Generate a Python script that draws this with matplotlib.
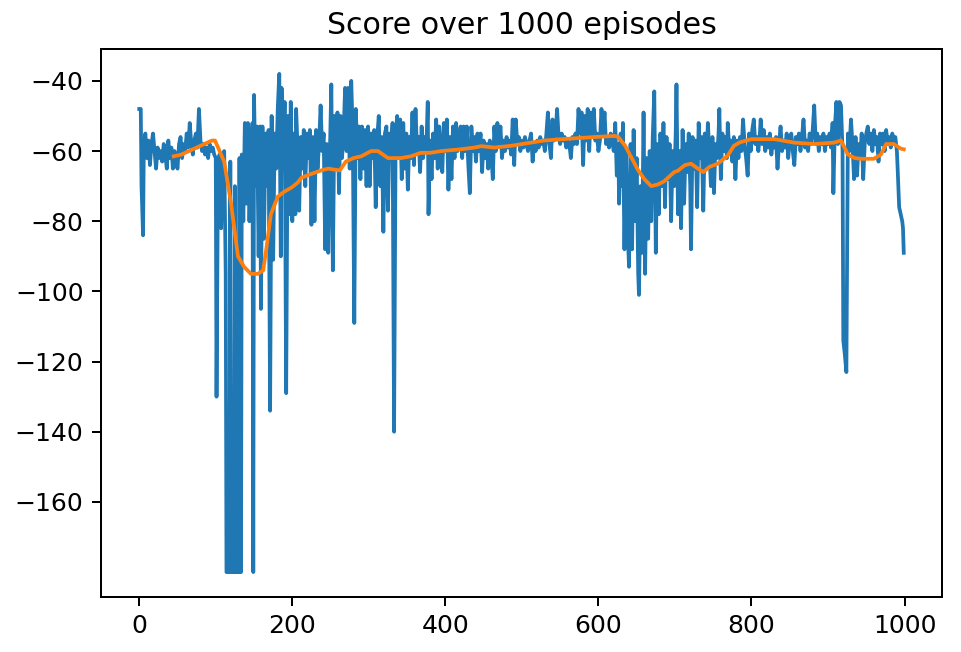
import matplotlib
matplotlib.use('Agg')
import matplotlib.pyplot as plt
import numpy as np

# raw score per episode (episode, score)
start = [(0, -48), (2, -48), (3, -70), (5, -84), (6, -58), (8, -55), (10, -62), (12, -57), (14, -64),
         (16, -58), (18, -55), (20, -60), (22, -65), (24, -59), (26, -62), (28, -60), (30, -63),
         (32, -58), (34, -61), (36, -65), (38, -57), (40, -62), (42, -59), (44, -65), (46, -60),
         (48, -63), (50, -65), (52, -58), (54, -56), (56, -62), (58, -58), (60, -60), (62, -55),
         (64, -59), (66, -52), (68, -58), (70, -61), (72, -57), (74, -55), (76, -59), (78, -48),
         (80, -57), (82, -60), (84, -58), (86, -61), (88, -59), (90, -62), (92, -58), (94, -60),
         (96, -59), (98, -61)]

collapse = [(100, -62), (101, -130), (103, -63), (105, -61), (107, -82), (109, -62), (111, -60),
            (113, -95), (114, -180), (115, -180), (116, -150), (117, -180), (118, -180), (119, -63),
            (120, -180), (121, -180), (122, -130), (123, -180), (124, -180), (125, -70), (126, -180),
            (127, -180), (128, -90), (129, -180), (130, -180), (131, -62), (132, -180), (133, -180),
            (134, -61), (136, -80), (138, -52), (140, -75), (142, -52), (144, -80), (146, -62),
            (148, -52), (149, -180), (150, -44), (152, -70), (154, -53), (156, -90), (158, -53),
            (159, -105), (161, -53), (163, -85), (165, -55), (167, -70), (169, -54), (171, -134),
            (173, -50), (175, -91), (177, -55), (179, -65), (181, -48), (183, -38), (185, -90),
            (186, -42), (188, -65), (190, -46), (192, -129), (194, -50), (196, -78), (198, -46),
            (200, -80)]

recovery = [(202, -55), (204, -78), (205, -48), (207, -60), (209, -77), (211, -56), (213, -65),
            (215, -54), (217, -70), (219, -55), (221, -62), (223, -54), (225, -81), (227, -56),
            (229, -80), (231, -54), (233, -65), (235, -58), (237, -47), (239, -60), (241, -55),
            (243, -88), (245, -58), (247, -89), (249, -62), (251, -41), (253, -94), (255, -50),
            (257, -65), (259, -49), (261, -72), (263, -50), (265, -62), (267, -55), (269, -42),
            (271, -60), (273, -42), (275, -65), (277, -40), (279, -55), (281, -109), (283, -48),
            (285, -62), (287, -53), (289, -68), (291, -53), (293, -65), (295, -54), (297, -70),
            (299, -53)]

middle = [(301, -70), (303, -55), (305, -62), (307, -54), (309, -76), (311, -56), (313, -50),
          (315, -70), (317, -56), (319, -83), (321, -55), (323, -53), (325, -77), (327, -55),
          (329, -60), (331, -52), (333, -140), (335, -56), (337, -50), (339, -62), (341, -51),
          (343, -68), (345, -52), (347, -65), (349, -55), (351, -71), (353, -56), (355, -62),
          (357, -49), (359, -64), (361, -48), (363, -60), (365, -56), (367, -66), (369, -53),
          (371, -62), (373, -56), (375, -60), (377, -46), (378, -78), (380, -57), (382, -68),
          (384, -55), (386, -62), (388, -51), (390, -65), (392, -53), (394, -60), (396, -66),
          (398, -52), (400, -60), (402, -51), (404, -71), (406, -56), (408, -68), (410, -53),
          (412, -62), (414, -52), (416, -60), (418, -56)]

plateau = [(420, -53), (422, -62), (424, -53), (426, -60), (428, -53), (430, -64), (432, -72),
           (434, -53), (436, -60), (438, -56), (440, -63), (442, -55), (444, -60), (446, -55),
           (448, -66), (450, -57), (452, -62), (454, -58), (456, -65), (458, -57), (460, -61),
           (462, -68), (464, -53), (466, -60), (468, -52), (470, -58), (472, -53), (474, -62),
           (476, -57), (478, -60), (480, -56), (482, -59), (484, -57), (486, -61), (488, -51),
           (490, -64), (492, -51), (494, -58), (496, -56), (498, -60), (500, -57), (502, -59),
           (504, -56), (506, -58), (508, -60), (510, -57), (512, -55), (514, -63), (516, -58),
           (518, -60), (520, -57), (522, -59), (524, -56), (526, -58), (528, -57), (530, -60),
           (532, -55), (534, -49), (536, -58), (538, -62), (540, -51), (542, -57), (544, -55),
           (546, -48), (548, -56), (550, -58), (552, -55), (554, -57), (556, -56), (558, -59),
           (560, -57), (562, -58), (564, -62), (566, -56), (568, -58), (570, -55), (572, -58),
           (574, -48), (576, -55), (578, -49), (580, -64), (582, -50), (584, -57), (586, -48),
           (588, -60), (590, -49), (592, -56), (594, -48), (596, -57), (598, -55), (600, -60),
           (602, -57), (604, -48), (606, -55), (608, -49), (610, -58), (612, -56), (614, -59),
           (616, -55), (618, -57)]

dip = [(620, -60), (622, -52), (624, -67), (626, -58), (627, -75), (629, -55), (631, -70),
       (632, -52), (634, -88), (636, -60), (638, -82), (640, -93), (642, -58), (644, -88),
       (646, -54), (648, -80), (650, -62), (652, -95), (653, -101), (655, -70), (657, -89),
       (659, -49), (661, -95), (663, -62), (665, -85), (667, -60), (669, -80), (671, -56),
       (673, -43), (675, -89), (677, -58), (679, -78), (681, -55), (683, -70), (685, -52),
       (687, -76), (689, -56), (691, -68), (693, -58), (695, -80), (697, -60), (699, -70),
       (701, -55), (702, -41), (704, -78), (706, -60), (708, -82), (710, -54), (712, -75),
       (714, -58), (716, -66), (718, -55), (720, -70), (721, -88), (723, -56), (725, -65),
       (727, -57), (729, -76), (731, -52), (733, -62), (735, -56), (737, -77), (739, -55),
       (741, -65), (743, -52), (745, -60), (747, -70), (749, -56), (751, -72), (753, -58),
       (755, -62), (757, -55), (758, -48), (760, -68)]

late = [(762, -55), (764, -60), (766, -56), (768, -62), (769, -52), (771, -60), (773, -57),
        (775, -63), (777, -56), (779, -68), (781, -57), (783, -62), (785, -56), (787, -60),
        (789, -51), (791, -58), (793, -62), (795, -67), (797, -55), (799, -60), (801, -54),
        (803, -51), (805, -58), (807, -56), (809, -60), (811, -55), (812, -51), (814, -58),
        (816, -54), (818, -60), (820, -56), (822, -59), (824, -55), (826, -61), (828, -57),
        (830, -59), (832, -56), (834, -65), (836, -58), (838, -53), (840, -60), (842, -57),
        (844, -59), (846, -55), (848, -62), (850, -57), (852, -55), (854, -60), (856, -64),
        (858, -56), (860, -58), (862, -55), (864, -60), (866, -56), (868, -51), (870, -59),
        (872, -57), (874, -60), (876, -55), (878, -58), (880, -54), (882, -47), (884, -58),
        (886, -55), (888, -60), (890, -56), (892, -58), (894, -55), (896, -60), (898, -56),
        (900, -58), (902, -55), (904, -59), (906, -52), (907, -72), (909, -53), (911, -46),
        (913, -58), (915, -46), (917, -47), (919, -60), (920, -114), (922, -118), (924, -123),
        (926, -55), (928, -60), (930, -51), (932, -58), (934, -68), (936, -56), (938, -67),
        (940, -58), (942, -62), (944, -55), (946, -68), (948, -58), (950, -55), (952, -53),
        (954, -58), (956, -55), (958, -60), (960, -54), (962, -58), (964, -56), (966, -63),
        (968, -55), (970, -58), (972, -55), (974, -60), (976, -54), (978, -58), (980, -56),
        (982, -59), (984, -55), (986, -57), (988, -56), (990, -60), (991, -65), (993, -76),
        (995, -78), (997, -80), (998, -82), (999, -89)]

# moving average (episode, value)
avg_points = [(45, -61.5), (55, -61), (65, -60), (75, -59), (85, -58), (95, -57), (99, -57),
              (105, -60), (111, -63), (120, -75), (129, -90), (137, -93), (146, -95), (155, -95),
              (162, -94), (166, -88), (172, -78), (181, -73), (190, -71.5), (199, -70.4),
              (207, -69), (212, -67.6), (225, -66.5), (238, -65.5), (247, -65), (255, -65.3),
              (262, -65.5), (270, -63), (280, -62), (290, -61.5), (303, -60), (312, -60),
              (325, -62), (342, -62), (355, -61.5), (368, -60.5), (380, -60.5), (395, -60),
              (420, -59.5), (438, -59), (447, -58.6), (464, -59), (486, -58.5), (500, -58),
              (529, -57), (560, -56.5), (595, -56), (621, -55.7), (626, -56), (635, -58.5),
              (643, -61.8), (652, -65.5), (660, -68), (669, -70), (678, -69.5), (686, -68.6),
              (699, -66), (704, -65.6), (713, -64), (721, -63.6), (730, -65), (737, -66),
              (745, -64.5), (756, -63.6), (769, -61.3), (777, -58.5), (785, -57.5), (800, -56.6),
              (830, -56.6), (856, -57.6), (882, -58), (908, -57.6), (917, -57), (926, -61),
              (935, -62), (943, -62.2), (960, -62.2), (969, -61), (976, -58), (986, -58),
              (995, -59.3), (999, -59.5)]

y_ticks = [-160, -140, -120, -100, -80, -60, -40]

scores = np.array(start + collapse + recovery + middle + plateau + dip + late, dtype=float)
avg = np.array(avg_points, dtype=float)

fig = plt.figure(figsize=(962 / 180, 652 / 180), dpi=180)
ax = fig.add_axes([0.105, 0.0844, 0.8742, 0.8405])
ax.plot(scores[:, 0], scores[:, 1], color='#1f77b4', lw=1.5)
ax.plot(avg[:, 0], avg[:, 1], color='#ff7f0e', lw=1.5)
ax.set_yticks(y_ticks)
ax.set_title('Score over 1000 episodes')

fig.savefig('out.png', dpi=180)
